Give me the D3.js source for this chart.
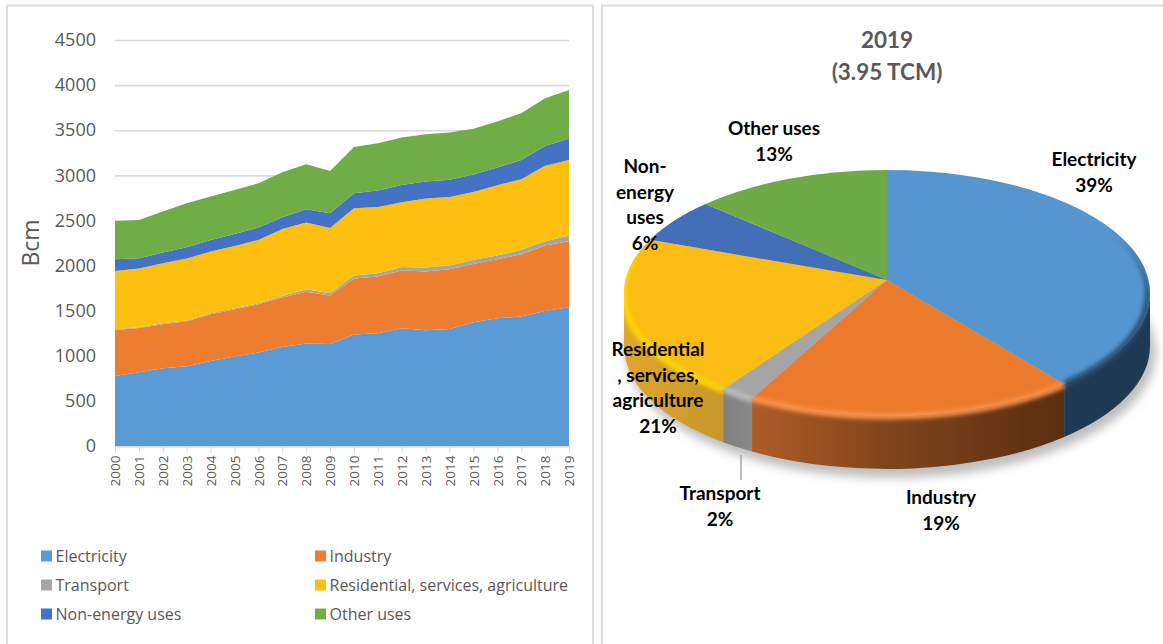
<!DOCTYPE html>
<html>
<head>
<meta charset="utf-8">
<script src="https://cdn.jsdelivr.net/npm/d3@7"></script>
<style>
  html,body{margin:0;padding:0;background:#fff}
  svg{display:block}
  text{font-family:"Open Sans",sans-serif}
  .pl text{font-family:Lato,sans-serif;font-weight:700}
</style>
</head>
<body>
<div id="app"></div>
<script>
// gas consumption by sector: stacked area + 2019 pie
const years = d3.range(2000,2020).map(String);
const sectors = ['Electricity','Industry','Transport','Residential, services, agriculture','Non-energy uses','Other uses'];
const electricity = [777,817,862,884,943,991,1035,1098,1135,1131,1235,1250,1305,1283,1298,1372,1416,1435,1497,1538];
const industry    = [509,492,487,499,517,521,536,547,576,536,621,628,640,650,661,646,654,691,725,732];
const transport   = [8,7,11,7,11,15,11,18,26,26,33,37,40,45,41,45,41,48,48,62];
const residential = [647,650,665,687,684,691,702,743,739,724,746,735,717,765,761,753,779,783,835,839];
const nonEnergy   = [129,115,119,126,129,133,137,129,148,163,167,181,192,188,189,193,196,214,221,237];
const otherUses   = [424,424,454,487,481,487,491,499,498,468,513,525,525,525,524,506,510,518,529,539];
const yTicks = [0,500,1000,1500,2000,2500,3000,3500,4000,4500];

const pieShares = [39,19,2,21,6,13];
const pieLabels = [['Electricity'],['Industry'],['Transport'],['Residential',', services,','agriculture'],['Non-','energy','uses'],['Other uses']];
const pieTitle = ['2019','(3.95 TCM)'];

const areaCol = ['#5B9BD5','#ED7D31','#A5A5A5','#FDC010','#4472C4','#70AD47'];
const topCol  = ['#5596D1','#EC7A2C','#A5A5A5','#FBBC14','#426FB8','#6EAB46'];
const rimCol  = ['#2A5070','#F8934F','#BDBDBD','#FFD900',null,null];

const W=1163, H=644;
const svg = d3.select('#app').append('svg').attr('width',W).attr('height',H);
const defs = svg.append('defs');

// panel frames
[[7,593],[602,W+4]].forEach(([a,b])=>{
  svg.append('rect').attr('x',a).attr('y',5.5).attr('width',b-a).attr('height',H+10)
    .attr('fill','none').attr('stroke','#DDD').attr('stroke-width',2);
});

// ---- left: stacked area
const x = d3.scalePoint().domain(years).range([115,569]);
const y = d3.scaleLinear().domain([0,4500]).range([446,40]);
const rows = years.map((yr,i)=>({yr,[sectors[0]]:electricity[i],[sectors[1]]:industry[i],[sectors[2]]:transport[i],
  [sectors[3]]:residential[i],[sectors[4]]:nonEnergy[i],[sectors[5]]:otherUses[i]}));
const stack = d3.stack().keys(sectors)(rows);

const gy = svg.append('g').attr('transform','translate(115,0)')
  .call(d3.axisLeft(y).tickValues(yTicks).tickFormat(d3.format('d')).tickSize(-454).tickPadding(19));
gy.select('.domain').remove();
gy.selectAll('line').attr('stroke','#D9D9D9').attr('stroke-width',1.6);
gy.selectAll('text').attr('font-size',18).attr('fill','#595959').style('font-family','"Open Sans"');

const area = d3.area().x(d=>x(d.data.yr)).y0(d=>y(d[0])).y1(d=>y(d[1]));
svg.append('g').selectAll('path').data(stack).join('path')
  .attr('d',area).attr('fill',(d,i)=>areaCol[i]);

const gx = svg.append('g').attr('transform','translate(0,446.5)')
  .call(d3.axisBottom(x).tickSize(6).tickPadding(4));
gx.select('.domain').attr('stroke','#D9D9D9').attr('stroke-width',1.2);
gx.selectAll('line').attr('stroke','#D9D9D9');
gx.selectAll('text').attr('font-size',13.5).attr('fill','#595959').style('font-family','"Open Sans"')
  .attr('transform','rotate(-90)').attr('text-anchor','end').attr('x',-9).attr('y',0).attr('dy','.35em');

svg.append('text').attr('transform','translate(31,243) rotate(-90)').attr('text-anchor','middle')
  .attr('dy','.35em').attr('font-size',23).attr('fill','#595959').text('Bcm');

// legend, two columns
const lg = svg.append('g').selectAll('g').data(sectors).join('g')
  .attr('transform',(d,i)=>`translate(${i%2?315:41},${556+Math.floor(i/2)*29})`);
lg.append('rect').attr('y',-5.5).attr('width',11).attr('height',11).attr('fill',(d,i)=>areaCol[i]);
lg.append('text').attr('x',14.5).attr('dy','.35em').attr('font-size',16).attr('fill','#595959').text(d=>d);

// ---- right: pie, tilted by hand (ellipse, apex sits a bit above its centre)
const cx=887, cy=293, rx=263, ry=123, apexY=280, depth=53;
const pt = a=>[cx+rx*Math.sin(a), cy-ry*Math.cos(a)];
const warp = a=>a-0.075*Math.sin(a); // perspective pulls the slice edges a little
const arcs = d3.pie().sort(null).value(d=>d)(pieShares)
  .map(d=>({...d,startAngle:warp(d.startAngle),endAngle:warp(d.endAngle)}));
const arcTo = (a,sweep,large)=>{const p=pt(a);return `A${rx},${ry} 0 ${large?1:0} ${sweep} ${p[0]},${p[1]}`;};

defs.append('filter').attr('id','soft').attr('x','-10%').attr('y','-10%').attr('width','120%').attr('height','120%')
  .append('feGaussianBlur').attr('stdDeviation',5);
defs.append('filter').attr('id','rim').attr('filterUnits','userSpaceOnUse').attr('x',0).attr('y',0).attr('width',W).attr('height',H)
  .append('feGaussianBlur').attr('stdDeviation',2.2);
// everything the bevel may touch
defs.append('clipPath').attr('id','solid').append('path')
  .attr('d',`M${cx-rx},${cy}A${rx},${ry} 0 0 1 ${cx+rx},${cy}V${cy+depth}A${rx},${ry} 0 0 1 ${cx-rx},${cy+depth}Z`);

const wallStops = [
  [[0,'#1F3A53'],[1,'#1F3A53']],
  [[0,'#AE5C28'],[.45,'#7E441C'],[1,'#5A2E11']],
  [[0,'#7F7F7F'],[1,'#8A8A8A']],
  [[0,'#DFA62B'],[1,'#C8982C']],
];
wallStops.forEach((st,i)=>{
  const d=arcs[i];
  const g=defs.append('linearGradient').attr('id','wall'+i).attr('gradientUnits','userSpaceOnUse')
    .attr('x1',pt(d.endAngle>Math.PI*1.3?Math.PI*1.5:d.endAngle)[0]).attr('x2',pt(d.startAngle)[0]).attr('y1',0).attr('y2',0);
  st.forEach(s=>g.append('stop').attr('offset',s[0]).attr('stop-color',s[1]));
});
// bevel fades out towards the back of the pie
rimCol.forEach((c,i)=>{
  if(!c) return;
  const g=defs.append('linearGradient').attr('id','rimg'+i).attr('gradientUnits','userSpaceOnUse')
    .attr('x1',0).attr('x2',0).attr('y1',i==0?235:240).attr('y2',i==0?300:285);
  g.append('stop').attr('offset',0).attr('stop-color',c).attr('stop-opacity',0);
  g.append('stop').attr('offset',1).attr('stop-color',c).attr('stop-opacity',1);
});

const pg = svg.append('g');
pg.append('ellipse').attr('cx',cx+4).attr('cy',cy+depth+6).attr('rx',rx+2).attr('ry',ry+3)
  .attr('fill','#BEBEBE').attr('filter','url(#soft)');

// side walls, front half only
arcs.forEach((d,i)=>{
  const a0=Math.max(d.startAngle,Math.PI/2), a1=Math.min(d.endAngle,Math.PI*1.5);
  if(a1<=a0) return;
  const p0=pt(a0), p1=pt(a1), large=a1-a0>Math.PI;
  pg.append('path').attr('fill',`url(#wall${i})`)
    .attr('d',`M${p0[0]},${p0[1]}${arcTo(a1,1,large)}L${p1[0]},${p1[1]+depth}A${rx},${ry} 0 ${large?1:0} 0 ${p0[0]},${p0[1]+depth}Z`);
});
// top faces
arcs.forEach((d,i)=>{
  const p0=pt(d.startAngle), large=d.endAngle-d.startAngle>Math.PI;
  pg.append('path').attr('fill',topCol[i])
    .attr('d',`M${cx},${apexY}L${p0[0]},${p0[1]}${arcTo(d.endAngle,1,large)}Z`);
});
// soft bevel on the rim
const bevel = pg.append('g').attr('clip-path','url(#solid)');
arcs.forEach((d,i)=>{
  if(!rimCol[i]) return;
  const p0=pt(d.startAngle);
  bevel.append('path').attr('fill','none').attr('stroke',`url(#rimg${i})`).attr('stroke-width',6).attr('filter','url(#rim)')
    .attr('d',`M${p0[0]},${p0[1]+1}${arcTo(d.endAngle,1,d.endAngle-d.startAngle>Math.PI)}`);
});

// leader for Transport
svg.append('path').datum([[741,455],[741,480]]).attr('d',d3.line()).attr('stroke','#A6A6A6').attr('stroke-width',1.5);

// labels
const labelPos = [[1094,160],[941,498],[720,494],[658,350],[645,167],[774,129]];
const pl = svg.append('g').attr('class','pl');
pieLabels.forEach((lines,i)=>{
  const t = pl.append('text').attr('text-anchor','middle').attr('font-size',19).attr('fill','#000');
  [...lines,pieShares[i]+'%'].forEach((s,k)=>{
    t.append('tspan').attr('x',labelPos[i][0]).attr('y',labelPos[i][1]+6+k*25.5).text(s);
  });
});
pieTitle.forEach((s,k)=>{
  pl.append('text').attr('x',887).attr('y',48+k*32).attr('text-anchor','middle')
    .attr('font-size',22.5).attr('fill','#595959').text(s);
});
</script>
</body>
</html>
